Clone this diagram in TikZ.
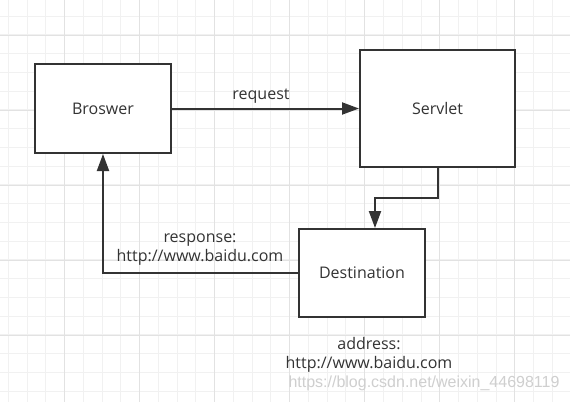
\documentclass[tikz,border=0pt]{standalone}
\usepackage{fontspec}
\setmainfont{Open Sans}
\newfontfamily\wmfont{Liberation Sans}
\usetikzlibrary{arrows.meta}
\definecolor{ink}{HTML}{333333}
\definecolor{gminor}{HTML}{F1F1F1}
\definecolor{gmajor}{HTML}{E2E2E2}
\definecolor{wm}{HTML}{CFCFCF}
\tikzset{
  box/.style={draw=ink, line width=2bp, fill=white, inner sep=0pt, font=\fontsize{16bp}{19bp}\selectfont, text=ink},
  lbl/.style={font=\fontsize{16bp}{19bp}\selectfont, text=ink, align=center, inner sep=0pt},
  conn/.style={draw=ink, line width=2bp, -{Triangle[length=17bp,width=12bp]}},
}
\begin{document}
\begin{tikzpicture}[x=1bp,y=-1bp]
\useasboundingbox (0,0) rectangle (570,402);
\fill[white] (0,0) rectangle (570,402);
% grid
\foreach \k in {0,...,30} {
  \pgfmathsetmacro\xx{8.3+18.76*\k}
  \draw[gminor, line width=1bp] (\xx,0) -- (\xx,402);
}
\foreach \k in {0,...,20} {
  \pgfmathsetmacro\yy{16+18.76*\k}
  \draw[gminor, line width=1bp] (0,\yy) -- (570,\yy);
}
\foreach \k in {0,...,6} {
  \pgfmathsetmacro\xx{64.7+75.04*\k}
  \draw[gmajor, line width=1bp] (\xx,0) -- (\xx,402);
}
\foreach \k in {0,...,4} {
  \pgfmathsetmacro\yy{35+75.04*\k}
  \draw[gmajor, line width=1bp] (0,\yy) -- (570,\yy);
}
% boxes
\node[box, minimum width=136bp, minimum height=89bp] (browser) at (103,108.5) {Broswer};
\node[box, minimum width=155bp, minimum height=117bp] (servlet) at (437.5,108.5) {Servlet};
\node[box, minimum width=126bp, minimum height=88bp] (dest) at (362,273) {Destination};
% connectors
\draw[conn] (browser.east) -- (servlet.west);
\coordinate (s1) at (437.5,198);
\draw[conn] (servlet.south) -- (s1) -| ([xshift=13bp]dest.north);
\draw[conn] (dest.west) -| (browser.south);
% labels
\node[lbl] (lreq) at (261,96) {request};
\node[lbl] (lresp) at (200,249.5) {response:\\http://www.baidu.com};
\node[lbl] (laddr) at (369,354.5) {address:\\http://www.baidu.com};
\node[font=\wmfont\fontsize{16bp}{19bp}\selectfont, text=wm, inner sep=0pt] (wmark) at (424,383) {https://blog.csdn.net/weixin\_44698119};
\end{tikzpicture}
\end{document}
